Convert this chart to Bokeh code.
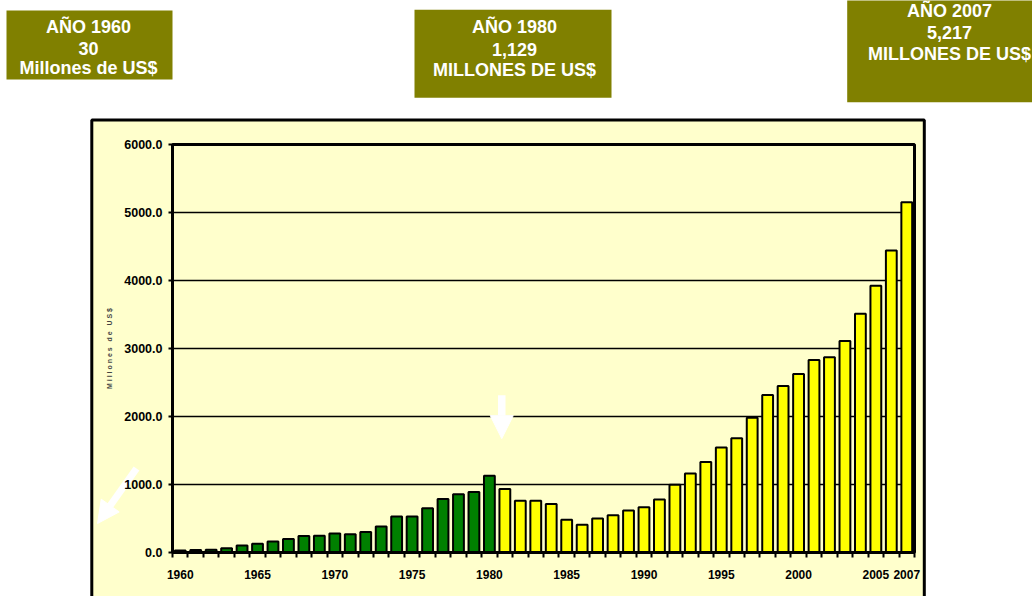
from bokeh.plotting import figure
from bokeh.models import (Range1d, FixedTicker, PrintfTickFormatter, Label, Arrow,
                          NormalHead, ColumnDataSource)
from bokeh.embed import file_html
from bokeh.resources import INLINE

# ---------------- data ----------------
years = list(range(1960, 2008))
values = [30, 35, 40, 63, 103, 128, 162, 197, 241, 246,
          280, 270, 300, 383, 531, 531, 649, 786, 855, 890,
          1129, 934, 762, 762, 713, 482, 408, 501, 546, 619,
          664, 780, 995, 1160, 1332, 1544, 1681, 1981, 2316, 2448,
          2625, 2832, 2871, 3112, 3510, 3923, 4440, 5150]
x_tick_years = [1960, 1965, 1970, 1975, 1980, 1985, 1990, 1995, 2000, 2005, 2007]
y_ticks = [0, 1000, 2000, 3000, 4000, 5000, 6000]
y_title = "\u00a0".join("Millones") + "\u00a0\u00a0\u00a0" + "\u00a0".join("de") + \
          "\u00a0\u00a0\u00a0" + "\u00a0".join("US$")
box_texts = [
    ["AÑO 1960", "30", "Millones de US$"],
    ["AÑO 1980", "1,129", "MILLONES DE US$"],
    ["AÑO 2007", "5,217", "MILLONES DE US$"],
]

GREEN = "#008000"
YELLOW = "#FFFF00"
OLIVE = "#808000"
PANEL = "#FFFFCC"
FONT = "Liberation Sans"
W, H = 1032, 596

# ---------------- background layer (decorations in pixel space) ----------------
bg = figure(width=W, height=H, output_backend="svg", toolbar_location=None,
            x_range=Range1d(0, W), y_range=Range1d(H, 0),
            x_axis_type=None, y_axis_type=None, min_border=0)
bg.outline_line_color = None
bg.background_fill_color = "white"
bg.border_fill_color = "white"
bg.grid.visible = False

# chart box
bg.quad(left=[91.3], right=[923.8], top=[119.6], bottom=[660],
        fill_color=PANEL, line_color="black", line_width=3)

# olive title boxes
box_geo = [
    dict(l=6, r=172, t=10, b=79, cx=88, ys=[26.2, 47.5, 67.7]),
    dict(l=414, r=611, t=9.3, b=97.3, cx=514, ys=[26.5, 48.5, 69.7]),
    dict(l=846.7, r=1045, t=-5, b=101.7, cx=949, ys=[10.8, 32.2, 53]),
]
for g, lines in zip(box_geo, box_texts):
    bg.quad(left=[g["l"]], right=[g["r"]], top=[g["t"]], bottom=[g["b"]],
            fill_color=OLIVE, line_color=None)
    for txt, yy in zip(lines, g["ys"]):
        bg.add_layout(Label(x=g["cx"], y=yy, text=txt, text_align="center",
                            text_baseline="middle", text_color="white",
                            text_font=FONT, text_font_style="bold",
                            text_font_size="18px"))

# diagonal white arrow (left, outside plot area)
bg.add_layout(Arrow(x_start=136, y_start=468, x_end=97, y_end=523,
                    line_color="white", line_width=7,
                    end=NormalHead(size=22, fill_color="white", line_color="white")))

# ---------------- chart layer ----------------
colors = [GREEN if y <= 1980 else YELLOW for y in years]
src = ColumnDataSource(dict(year=years, value=values, color=colors))

p = figure(width=W, height=H, output_backend="svg", toolbar_location=None,
           x_range=Range1d(1959.5, 2007.5), y_range=Range1d(0, 6000),
           min_border_left=172, min_border_right=118, min_border_top=144,
           min_border_bottom=44)
p.styles = {"margin-top": f"-{H}px"}
p.border_fill_color = None
p.border_fill_alpha = 0
p.background_fill_color = PANEL
p.outline_line_color = "black"
p.outline_line_width = 3

p.vbar(x="year", top="value", width=0.7, source=src, fill_color="color",
       line_color="black", line_width=2)

p.xaxis.ticker = FixedTicker(ticks=x_tick_years,
                             minor_ticks=[1959.5 + i for i in range(49)])
p.xaxis.major_tick_out = 0
p.xaxis.major_tick_in = 0
p.xaxis.minor_tick_out = 5
p.xaxis.minor_tick_in = 0
p.xaxis.minor_tick_line_width = 2
p.xaxis.minor_tick_line_color = "black"
p.xaxis.axis_line_width = 3
p.xaxis.major_label_standoff = 12
p.xaxis.major_label_text_font = FONT
p.xaxis.major_label_text_font_style = "bold"
p.xaxis.major_label_text_font_size = "12px"
p.xaxis.major_label_text_color = "black"

p.yaxis.ticker = FixedTicker(ticks=y_ticks, minor_ticks=[])
p.yaxis.formatter = PrintfTickFormatter(format="%.1f")
p.yaxis.major_tick_out = 4
p.yaxis.major_tick_in = 0
p.yaxis.major_tick_line_width = 2
p.yaxis.axis_line_width = 3
p.yaxis.major_label_standoff = 6
p.yaxis.major_label_text_font = FONT
p.yaxis.major_label_text_font_style = "bold"
p.yaxis.major_label_text_font_size = "12.5px"
p.yaxis.major_label_text_color = "black"
p.yaxis.axis_label = y_title
p.yaxis.axis_label_text_font = FONT
p.yaxis.axis_label_text_font_style = "bold"
p.yaxis.axis_label_text_font_size = "7px"
p.yaxis.axis_label_standoff = 8

p.xgrid.grid_line_color = None
p.ygrid.grid_line_color = "black"
p.ygrid.grid_line_width = 1.3

# vertical white arrow pointing at 1980/81
p.add_layout(Arrow(x_start=1980.8, y_start=2313, x_end=1980.8, y_end=1675,
                   line_color="white", line_width=7.5,
                   end=NormalHead(size=23, fill_color="white", line_color="white")))

open("out.html", "w").write(file_html([bg, p], INLINE))
